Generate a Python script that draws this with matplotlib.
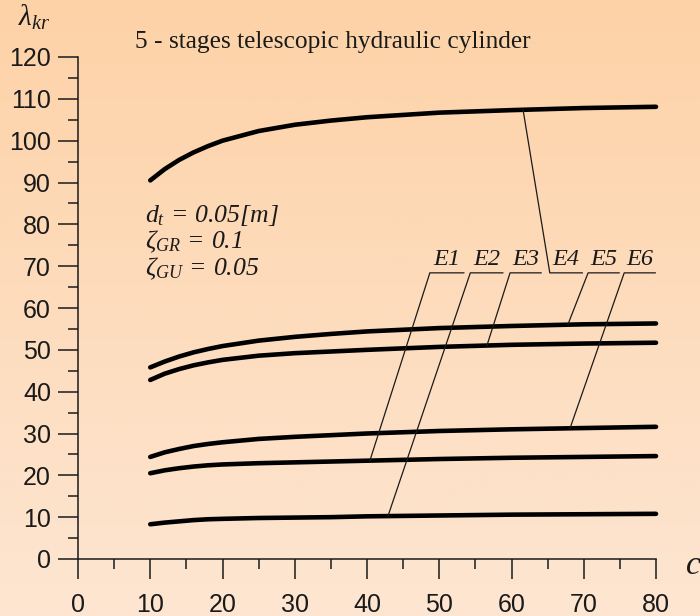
import matplotlib
matplotlib.use("Agg")
import matplotlib.pyplot as plt
import numpy as np
from matplotlib.colors import LinearSegmentedColormap
from matplotlib.ticker import MultipleLocator

# c values and lambda_kr for each curve
c = [10, 12, 14, 16, 18, 20, 25, 30, 35, 40, 50, 60, 70, 80]
curve_top = [90.5, 93.2, 95.4, 97.2, 98.7, 100.0, 102.3, 103.8, 104.8, 105.6, 106.7, 107.3, 107.8, 108.1]
curve_56 = [45.8, 47.2, 48.4, 49.4, 50.2, 50.9, 52.2, 53.1, 53.8, 54.4, 55.2, 55.7, 56.1, 56.3]
curve_52 = [42.8, 44.3, 45.4, 46.3, 47.0, 47.6, 48.6, 49.2, 49.6, 50.0, 50.7, 51.2, 51.5, 51.7]
curve_32 = [24.4, 25.5, 26.3, 27.0, 27.5, 27.9, 28.7, 29.2, 29.6, 30.0, 30.6, 31.0, 31.3, 31.6]
curve_25 = [20.5, 21.2, 21.7, 22.1, 22.4, 22.6, 22.9, 23.1, 23.3, 23.5, 23.9, 24.2, 24.4, 24.6]
curve_11 = [8.3, 8.7, 9.0, 9.3, 9.5, 9.6, 9.8, 9.9, 10.0, 10.2, 10.4, 10.6, 10.7, 10.8]

# leader labels: name, where the shelf starts/ends, which curve, where it touches
labels = ["E1", "E2", "E3", "E4", "E5", "E6"]
shelf_start = [48.7, 54.3, 59.8, 65.3, 70.6, 75.6]
shelf_end = [53.4, 58.8, 64.1, 69.8, 74.9, 79.9]
shelf_level = 68.4
target_curve = ["curve_25", "curve_11", "curve_52", "curve_top", "curve_56", "curve_32"]
target_c = [40.4, 42.9, 56.6, 61.6, 67.8, 68.1]

curves = {"curve_top": curve_top, "curve_56": curve_56, "curve_52": curve_52,
          "curve_32": curve_32, "curve_25": curve_25, "curve_11": curve_11}

# all math text in italic serif, digits included
plt.rcParams['mathtext.fontset'] = 'custom'
plt.rcParams['mathtext.rm'] = 'Liberation Serif:italic'
plt.rcParams['mathtext.it'] = 'Liberation Serif:italic'
plt.rcParams['mathtext.bf'] = 'Liberation Serif:bold'

ink = "#1a1a1a"
fig = plt.figure(figsize=(7, 6.16), dpi=100)

# peach gradient background
bg = fig.add_axes([0, 0, 1, 1], zorder=-10)
grad_cmap = LinearSegmentedColormap.from_list("peach", ["#fdd2a7", "#fde6d2"])
bg.imshow(np.linspace(0, 1, 256).reshape(-1, 1), cmap=grad_cmap, aspect="auto",
          extent=[0, 1, 0, 1], origin="upper")
bg.axis("off")

ax = fig.add_axes([78 / 700, 57 / 616, 578 / 700, 502 / 616])
ax.set_facecolor("none")

for name, vals in curves.items():
    ax.plot(c, vals, color="black", lw=3.3, solid_capstyle="round", clip_on=False)

# leader lines and labels
for i, lab in enumerate(labels):
    y_end = np.interp(target_c[i], c, curves[target_curve[i]])
    ax.plot([target_c[i], shelf_start[i], shelf_end[i]], [y_end, shelf_level, shelf_level],
            color=ink, lw=0.9)
    ax.text((shelf_start[i] + shelf_end[i]) / 2, shelf_level + 0.6, lab,
            family="Liberation Serif", style="italic", fontsize=17.5,
            ha="center", va="bottom", color=ink)

param_font = dict(fontsize=18.5, color=ink, ha="left", va="center")
ax.text(9.3, 82.3, r"$d_t\,=\,0.05[m]$", **param_font)
ax.text(9.3, 75.8, r"$\zeta_{GR}\,=\,0.1$", **param_font)
ax.text(9.3, 69.3, r"$\zeta_{GU}\,=\,0.05$", **param_font)

ax.set_xlim(0, 80)
ax.set_ylim(0, 120)
ax.xaxis.set_major_locator(MultipleLocator(10))
ax.xaxis.set_minor_locator(MultipleLocator(5))
ax.yaxis.set_major_locator(MultipleLocator(10))
ax.yaxis.set_minor_locator(MultipleLocator(5))
for s in ["top", "right"]:
    ax.spines[s].set_visible(False)
for s in ["left", "bottom"]:
    ax.spines[s].set_linewidth(1.1)
    ax.spines[s].set_color(ink)
ax.tick_params(which="major", length=14.4, width=1.1, color=ink, direction="out")
ax.tick_params(which="minor", length=7.2, width=1.1, color=ink, direction="out")
ax.tick_params(axis="y", which="major", pad=5)
ax.tick_params(axis="x", which="major", pad=10)
for lbl in ax.get_xticklabels() + ax.get_yticklabels():
    lbl.set_family("Liberation Sans")
    lbl.set_fontsize(18)
    lbl.set_color(ink)

fig.text(135 / 700, 1 - 42 / 616, "5 - stages telescopic hydraulic cylinder",
         family="Liberation Serif", fontsize=18.3, ha="left", va="center", color=ink)
fig.text(18 / 700, 1 - 17 / 616, r"$\lambda_{kr}$", fontsize=21,
         ha="left", va="center", color=ink)
fig.text(685 / 700, 1 - 565 / 616, r"$c$", fontsize=24,
         ha="left", va="center", color=ink)

fig.savefig("out.png", dpi=100)
